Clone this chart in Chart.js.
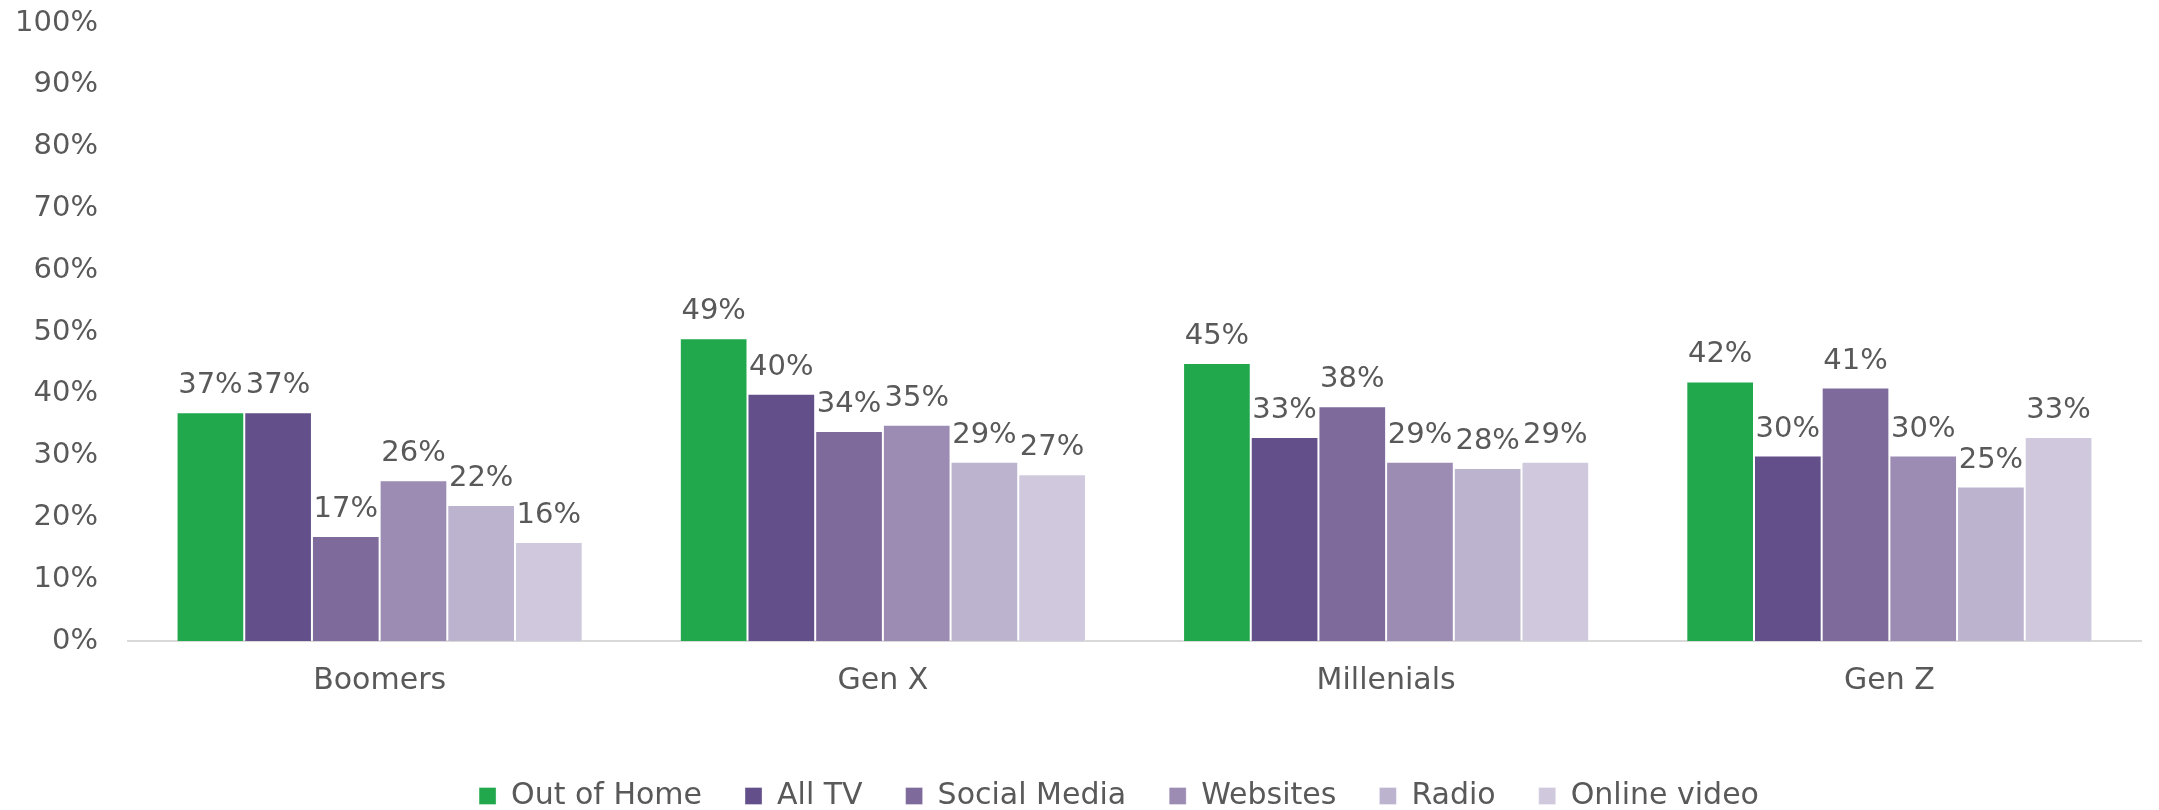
<!DOCTYPE html>
<html>
<head>
<meta charset="utf-8">
<script src="https://cdn.jsdelivr.net/npm/chart.js@4/dist/chart.umd.min.js"></script>
<style>
  html, body { margin: 0; padding: 0; background: #fff; }
  #wrap { width: 2159px; height: 810px; }
</style>
</head>
<body>
<div id="wrap"><canvas id="chart"></canvas></div>
<script>
const categories = ['Boomers', 'Gen X', 'Millenials', 'Gen Z'];
const seriesNames = ['Out of Home', 'All TV', 'Social Media', 'Websites', 'Radio', 'Online video'];
const outOfHome = [37, 49, 45, 42];
const allTv = [37, 40, 33, 30];
const socialMedia = [17, 34, 38, 41];
const websites = [26, 35, 29, 30];
const radio = [22, 29, 28, 25];
const onlineVideo = [16, 27, 29, 33];
const yTicks = [0, 10, 20, 30, 40, 50, 60, 70, 80, 90, 100];

const seriesValues = [outOfHome, allTv, socialMedia, websites, radio, onlineVideo];
const colors = ['#22a84c', '#634f89', '#7e6a9b', '#9c8bb3', '#bcb3cf', '#d0c9dd'];

const FONT = '"DejaVu Sans", sans-serif';
const TEXT = '#595959';

// value labels above each bar
const barLabels = {
  id: 'barLabels',
  afterDatasetsDraw(chart) {
    const ctx = chart.ctx;
    ctx.save();
    ctx.font = '29px ' + FONT;
    ctx.fillStyle = TEXT;
    ctx.textAlign = 'center';
    ctx.textBaseline = 'bottom';
    chart.data.datasets.forEach((ds, i) => {
      chart.getDatasetMeta(i).data.forEach((bar, j) => {
        ctx.fillText(ds.data[j] + '%', bar.x, bar.y - 12);
      });
    });
    ctx.restore();
  }
};

// legend: wide gaps between items, but a short box near the bottom edge, a bit right of centre
const legendPlace = {
  id: 'legendPlace',
  beforeUpdate(chart) {
    const lg = chart.legend;
    if (lg && !lg._placed) {
      const fit = lg.fit;
      lg.fit = function () { fit.call(this); this.height = 72; };
      lg._placed = true;
    }
  },
  afterLayout(chart) {
    const lg = chart.legend;
    const shift = 1119 - (lg.left + lg.right) / 2;
    lg.left += shift;
    lg.right += shift;
  }
};

new Chart(document.getElementById('chart'), {
  type: 'bar',
  data: {
    labels: categories,
    datasets: seriesNames.map((name, i) => ({
      label: name,
      data: seriesValues[i],
      backgroundColor: colors[i],
      borderColor: 'rgba(255,255,255,0.35)',
      borderWidth: 1,
      categoryPercentage: 0.807,
      barPercentage: 1
    }))
  },
  options: {
    responsive: true,
    maintainAspectRatio: false,
    animation: false,
    layout: { padding: { top: 23, right: 18, bottom: 0, left: 0 } },
    scales: {
      x: {
        grid: { display: false, drawTicks: false },
        border: { display: true, color: '#d9d9d9', width: 2 },
        ticks: { color: TEXT, font: { family: FONT, size: 30 }, padding: 22 },
        afterFit(scale) { scale.height = 97; }
      },
      y: {
        min: 0,
        max: 100,
        afterBuildTicks(scale) { scale.ticks = yTicks.map(v => ({ value: v })); },
        grid: { display: false, drawTicks: false },
        border: { display: false },
        ticks: {
          color: TEXT,
          font: { family: FONT, size: 29 },
          padding: 30,
          callback: v => v + '%'
        },
        afterFit(scale) {
          scale.width = 128;
          scale.paddingTop = 0;
          scale.paddingBottom = 0;
        }
      }
    },
    plugins: {
      legend: {
        position: 'bottom',
        labels: {
          color: TEXT,
          font: { family: FONT, size: 30 },
          boxWidth: 17,
          boxHeight: 17,
          padding: 43
        }
      },
      tooltip: { enabled: false }
    }
  },
  plugins: [barLabels, legendPlace]
});
</script>
</body>
</html>
